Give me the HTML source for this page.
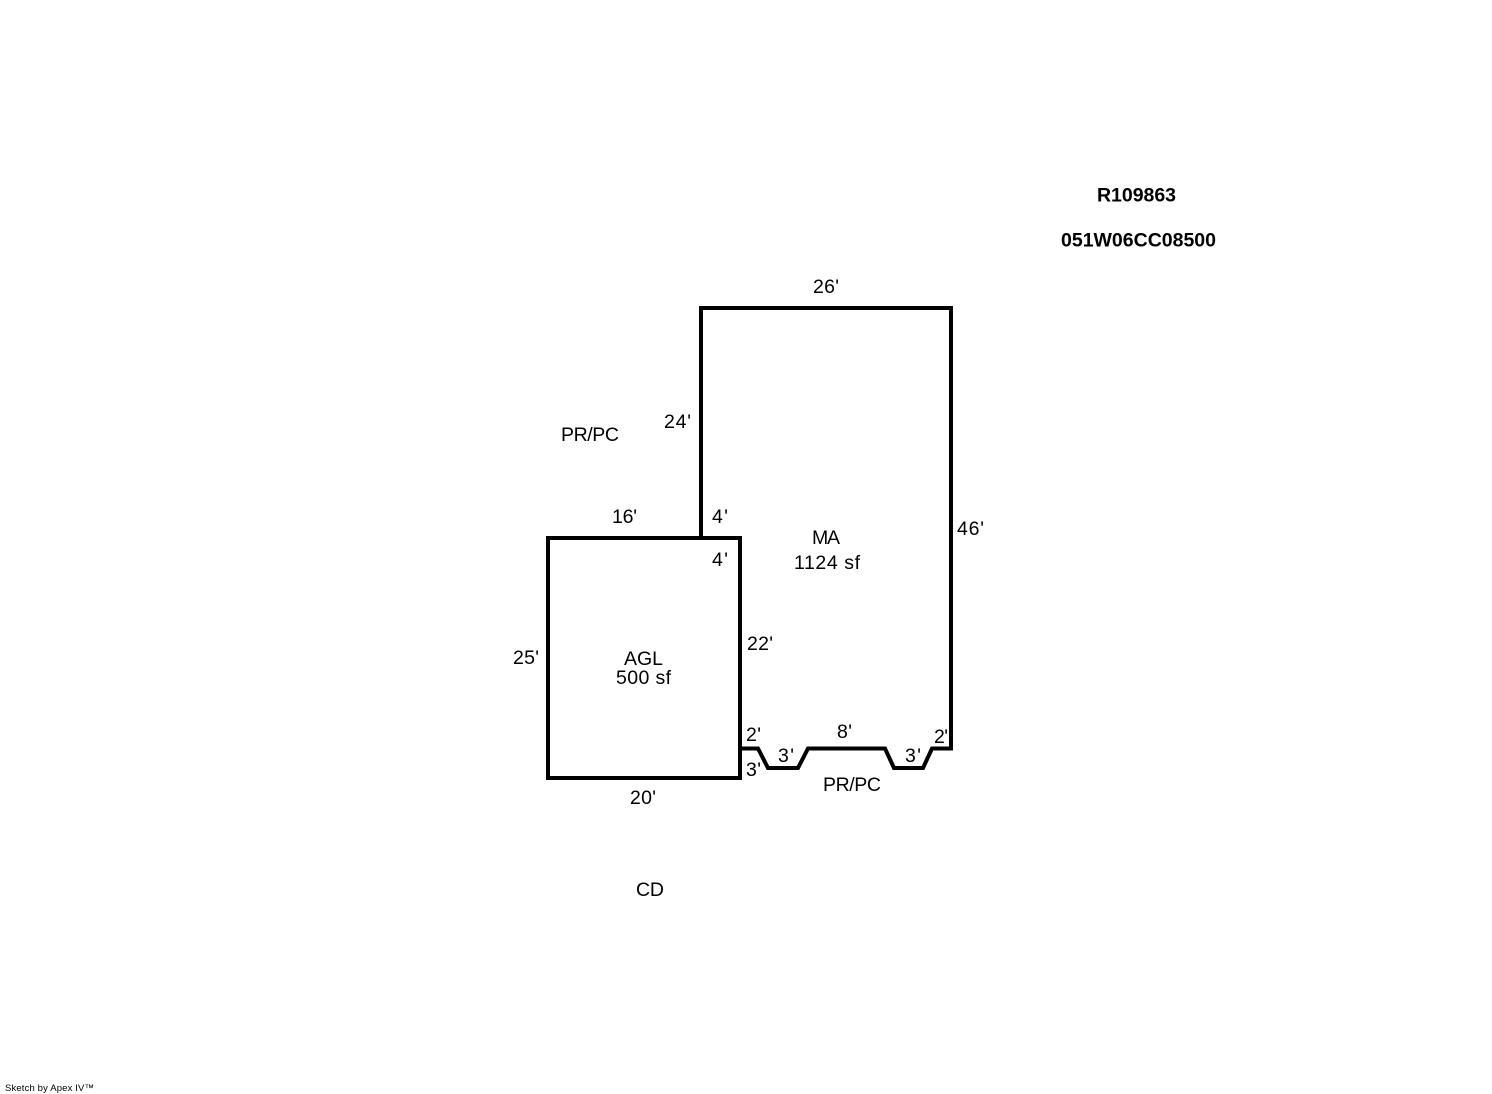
<!DOCTYPE html>
<html>
<head>
<meta charset="utf-8">
<style>
html,body{margin:0;padding:0;background:#fff;width:1492px;height:1094px;overflow:hidden}
svg{display:block}
text{font-family:"Liberation Sans",Arial,sans-serif;font-size:19.5px;fill:#000}
.b{font-weight:bold}
.s{font-size:9.5px}
</style>
</head>
<body>
<svg width="1492" height="1094" viewBox="0 0 1492 1094" xmlns="http://www.w3.org/2000/svg">
<rect width="1492" height="1094" fill="#fff"/>
<g fill="none" stroke="#000" stroke-width="4" stroke-linejoin="miter">
<path d="M548 538H740V778H548Z"/>
<path d="M701 538V308H951V748.500H932L923 768H894L885 748.500H808L798 768H768L758 748.500H740"/>
</g>
<text class="b" x="1097" y="201.500" textLength="79">R109863</text>
<text class="b" x="1061" y="246.500" textLength="155">051W06CC08500</text>
<text x="813" y="293" textLength="26">26'</text>
<text x="664" y="428" textLength="27">24'</text>
<text x="561" y="441" textLength="58">PR/PC</text>
<text x="612" y="523" textLength="25">16'</text>
<text x="712" y="523" textLength="16">4'</text>
<text x="957" y="535" textLength="27">46'</text>
<text x="812" y="544" textLength="28">MA</text>
<text x="712" y="566" textLength="16">4'</text>
<text x="794" y="569" textLength="66">1124 sf</text>
<text x="747" y="650" textLength="26">22'</text>
<text x="513" y="664" textLength="26">25'</text>
<text x="624" y="665" textLength="39">AGL</text>
<text x="616" y="684" textLength="55">500 sf</text>
<text x="837" y="738" textLength="15">8'</text>
<text x="746" y="741" textLength="15">2'</text>
<text x="934" y="743" textLength="14">2'</text>
<text x="778" y="762" textLength="16">3'</text>
<text x="905" y="762" textLength="16">3'</text>
<text x="746" y="776" textLength="15">3'</text>
<text x="823" y="791" textLength="58">PR/PC</text>
<text x="630" y="804" textLength="26">20'</text>
<text x="636" y="896" textLength="28">CD</text>
<text class="s" x="5" y="1091" textLength="89">Sketch by Apex IV™</text>
</svg>
</body>
</html>
